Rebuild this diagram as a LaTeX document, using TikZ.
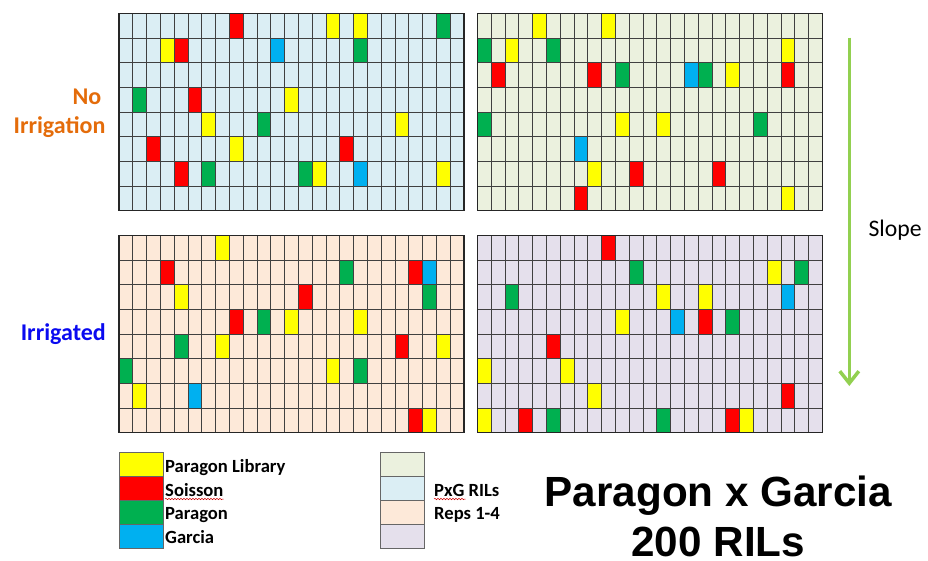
\documentclass[tikz,border=0pt]{standalone}
\usepackage{fontspec}
\setmainfont{Carlito}
\newfontfamily\titlefont{Liberation Sans}
\usetikzlibrary{arrows.meta,decorations.pathmorphing}

% Colours of the plots
\definecolor{plib}{HTML}{FFFF00}
\definecolor{sois}{HTML}{FF0000}
\definecolor{parg}{HTML}{00B050}
\definecolor{garc}{HTML}{00B0F0}
\definecolor{bgnw}{HTML}{DBEEF4}
\definecolor{bgne}{HTML}{EBF1DE}
\definecolor{bgsw}{HTML}{FDE9D9}
\definecolor{bgse}{HTML}{E5E0EC}
\definecolor{noirr}{HTML}{E46C0A}
\definecolor{irr}{HTML}{0A0AF0}
\definecolor{slopegreen}{HTML}{92D050}

% one field: x, y, background, coloured plots (column/row/colour)
\newcommand{\plotfield}[4]{%
  \begin{scope}[shift={(#1,#2)}]
    \fill[#3] (0,0) rectangle (345,197.2);
    \foreach \c/\r/\k in {#4}
      \fill[\k] ({(\c-1)*13.8},{(\r-1)*24.65}) rectangle ++(13.8,24.65);
    \foreach \i in {1,...,24}
      \draw[gridline] ({\i*13.8},0) -- ({\i*13.8},197.2);
    \foreach \j in {1,...,7}
      \draw[gridline] (0,{\j*24.65}) -- (345,{\j*24.65});
    \draw[frame] (0,0) rectangle (345,197.2);
  \end{scope}}

\begin{document}
\begin{tikzpicture}[
    x=1pt, y=-1pt,
    gridline/.style={draw=black!75, line width=0.7pt},
    frame/.style={draw=black!85, line width=1.2pt},
    swatch/.style={draw=black!60, line width=0.6pt, minimum width=44pt,
                   minimum height=24pt, inner sep=0pt},
    keytext/.style={anchor=base west, inner sep=0pt,
                    font=\fontsize{18.6}{22}\selectfont\bfseries},
    side/.style={inner sep=0pt, font=\fontsize{24}{28}\selectfont\bfseries},
    title/.style={anchor=base, inner sep=0pt,
                  font=\titlefont\fontsize{42.2}{50}\selectfont\bfseries},
    squiggle/.style={draw=red!80!black, line width=0.5pt, decorate,
                     decoration={snake, amplitude=0.7pt, segment length=3pt}}
  ]
  \useasboundingbox (0,0) rectangle (928,560);

  % Fields
  \plotfield{119}{13.3}{bgnw}{9/1/sois, 16/1/plib, 18/1/plib, 24/1/parg,
    4/2/plib, 5/2/sois, 12/2/garc, 18/2/parg, 2/4/parg, 6/4/sois, 13/4/plib,
    7/5/plib, 11/5/parg, 21/5/plib, 3/6/sois, 9/6/plib, 17/6/sois,
    5/7/sois, 7/7/parg, 14/7/parg, 15/7/plib, 18/7/garc, 24/7/plib}
  \plotfield{477.3}{13.3}{bgne}{5/1/plib, 10/1/plib, 1/2/parg, 3/2/plib,
    6/2/parg, 23/2/plib, 2/3/sois, 9/3/sois, 11/3/parg, 16/3/garc, 17/3/parg,
    19/3/plib, 23/3/sois, 1/5/parg, 11/5/plib, 14/5/plib, 21/5/parg,
    8/6/garc, 9/7/plib, 12/7/sois, 18/7/sois, 8/8/sois, 23/8/plib}
  \plotfield{119}{235.3}{bgsw}{8/1/plib, 4/2/sois, 17/2/parg, 22/2/sois,
    23/2/garc, 5/3/plib, 14/3/sois, 23/3/parg, 9/4/sois, 11/4/parg,
    13/4/plib, 18/4/plib, 5/5/parg, 8/5/plib, 21/5/sois, 24/5/plib,
    1/6/parg, 16/6/plib, 18/6/parg, 2/7/plib, 6/7/garc, 22/8/sois, 23/8/plib}
  \plotfield{477.3}{235.3}{bgse}{10/1/sois, 12/2/parg, 22/2/plib, 24/2/parg,
    3/3/parg, 14/3/plib, 17/3/plib, 23/3/garc, 11/4/plib, 15/4/garc,
    17/4/sois, 19/4/parg, 6/5/sois, 1/6/plib, 7/6/plib, 9/7/plib, 23/7/sois,
    1/8/plib, 4/8/sois, 6/8/parg, 14/8/parg, 19/8/sois, 20/8/plib}

  % Side labels
  \node[side, text=noirr, anchor=base] (no)  at (87,104.3) {No};
  \node[side, text=noirr, anchor=base] (irg) at (59.5,133.3) {Irrigation};
  \node[side, text=irr, anchor=base]   (ird) at (63.3,340) {Irrigated};

  % Slope
  \coordinate (stop) at (849.3,37.5);
  \coordinate (sbot) at (849.3,386);
  \draw[slopegreen, line width=3.5pt,
        -{Straight Barb[length=12pt, width=19pt, line width=3.5pt]}] (stop) -- (sbot);
  \node[anchor=base west, inner sep=0pt, font=\fontsize{23.7}{28}\selectfont]
    (slope) at (868.3,236.7) {Slope};

  % Key
  \node[swatch, fill=plib] (kplib) at (141.2,464.7) {};
  \node[swatch, fill=sois] (ksois) at (141.2,488.7) {};
  \node[swatch, fill=parg] (kparg) at (141.2,512.7) {};
  \node[swatch, fill=garc] (kgarc) at (141.2,536.7) {};
  \node[keytext] (tplib) at (165,472.3) {Paragon Library};
  \node[keytext] (tsois) at (165,496) {Soisson};
  \node[keytext] (tparg) at (165,519.5) {Paragon};
  \node[keytext] (tgarc) at (165,543.3) {Garcia};

  \node[swatch, fill=bgne] (kne) at (402.2,464.7) {};
  \node[swatch, fill=bgnw] (knw) at (402.2,488.7) {};
  \node[swatch, fill=bgsw] (ksw) at (402.2,512.7) {};
  \node[swatch, fill=bgse] (kse) at (402.2,536.7) {};
  \node[keytext] (tpxg)  at (434,496) {PxG RILs};
  \node[keytext] (treps) at (434,519.5) {Reps 1-4};

  \draw[squiggle] ([yshift=-3pt]tsois.base west) -- ([yshift=-3pt]tsois.base east);
  \draw[squiggle] ([yshift=-3pt]tpxg.base west) -- ([yshift=-3pt,xshift=-34pt]tpxg.base east);

  % Title
  \node[title] (ttl1) at (718.3,506.7) {Paragon x Garcia};
  \node[title] (ttl2) at (718.3,556.7) {200 RILs};

\end{tikzpicture}
\end{document}
